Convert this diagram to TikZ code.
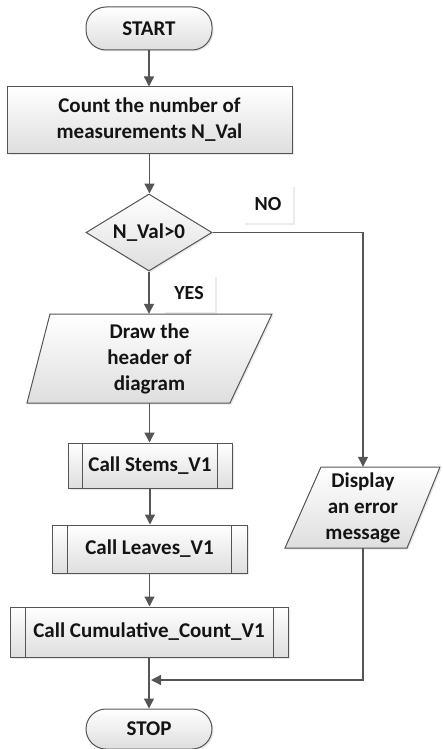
\documentclass[tikz,border=0pt]{standalone}
\usepackage{fontspec}
\setmainfont{Carlito}
\usetikzlibrary{shapes.geometric,arrows.meta,shadows,calc}
\definecolor{linec}{RGB}{85,85,85}
\definecolor{fillc}{RGB}{222,222,222}
\definecolor{txtc}{RGB}{20,20,20}
\begin{document}
\begin{tikzpicture}[x=1pt,y=-1pt,
  line/.style={draw=linec, line width=1.3pt},
  arr/.style={line, -{Triangle[length=10pt,width=10pt]}},
  shade/.style={top color=white, bottom color=fillc,
    drop shadow={opacity=0.18,shadow xshift=1.5pt,shadow yshift=-1.5pt}},
  txt/.style={font=\bfseries\fontsize{21}{26}\selectfont, text=txtc, align=center},
  term/.style={txt, shade, draw=linec, line width=1pt, rectangle, rounded corners=20pt,
    minimum width=126pt, inner sep=0pt},
  rectbox/.style={txt, shade, draw=linec, line width=1pt, rectangle, inner sep=0pt},
  procbox/.style={rectbox},
  decbox/.style={txt, shade, draw=linec, line width=1pt, diamond, aspect=1.64,
    minimum width=126pt, minimum height=77pt, inner sep=0pt},
  para/.style={shade, draw=linec, line width=1pt},
  lab/.style={txt, fill=white, font=\bfseries\fontsize{20}{24}\selectfont,
    drop shadow={opacity=0.15,shadow xshift=1.5pt,shadow yshift=-1.5pt},
    inner sep=0pt}
]
\useasboundingbox (0,0) rectangle (442,749);

% nodes
\node[term, minimum height=43pt] (start) at (149,28.5) {START};
\node[rectbox, minimum width=285pt, minimum height=66pt] (count) at (149.5,120)
  {Count the number of\\measurements N\_Val};
\node[decbox] (dec) at (149,232.5) {N\_Val>0};

\coordinate (hdrc) at (149.5,358.5);
\path[para] ($(hdrc)+(-99.5,-44.5)$) -- ($(hdrc)+(122.5,-44.5)$)
  -- ($(hdrc)+(80.5,44.5)$) -- ($(hdrc)+(-122.5,44.5)$) -- cycle;
\node[txt, minimum height=89pt, minimum width=180pt, inner sep=0pt] (hdr) at (hdrc)
  {Draw the\\header of\\diagram};

\node[procbox, minimum width=164pt, minimum height=45pt] (stems) at (150,465.5) {Call Stems\_V1};
\draw[linec, line width=1pt] ([xshift=15pt]stems.north west) -- ([xshift=15pt]stems.south west)
  ([xshift=-15pt]stems.north east) -- ([xshift=-15pt]stems.south east);

\node[procbox, minimum width=195pt, minimum height=48pt] (leaves) at (149.5,549) {Call Leaves\_V1};
\draw[linec, line width=1pt] ([xshift=16pt]leaves.north west) -- ([xshift=16pt]leaves.south west)
  ([xshift=-16pt]leaves.north east) -- ([xshift=-16pt]leaves.south east);

\node[procbox, minimum width=278pt, minimum height=50pt] (cum) at (149,632) {Call Cumulative\_Count\_V1};
\draw[linec, line width=1pt] ([xshift=16pt]cum.north west) -- ([xshift=16pt]cum.south west)
  ([xshift=-15pt]cum.north east) -- ([xshift=-15pt]cum.south east);

\node[term, minimum height=40pt] (stop) at (149,729) {STOP};

\coordinate (dispc) at (363,507.5);
\path[para] ($(dispc)+(-42,-40.5)$) -- ($(dispc)+(77,-40.5)$)
  -- ($(dispc)+(44,40.5)$) -- ($(dispc)+(-78,40.5)$) -- cycle;
\node[txt, minimum height=81pt, minimum width=100pt, inner sep=0pt] (disp) at (dispc)
  {Display\\an error\\message};

\node[lab, minimum width=50pt, minimum height=38pt] (no) at (268,204) {NO};
\node[lab, minimum width=52pt, minimum height=37pt] (yes) at (189,293.5) {YES};

% connectors
\draw[arr] (start.south) -- (start.south |- count.north);
\draw[arr] (count.south) -- (count.south |- dec.north);
\draw[arr] (dec.south) -- (dec.south |- hdr.north);
\draw[arr] (dec.east) -| (disp.north);
\draw[arr] (hdr.south) -- (hdr.south |- stems.north);
\draw[arr] (stems.south) -- (stems.south |- leaves.north);
\draw[arr] (leaves.south) -- (leaves.south |- cum.north);
\draw[arr] (cum.south) -- (cum.south |- stop.north);
\coordinate (mrg) at (151,680);
\draw[arr] (disp.south) |- (mrg);
\end{tikzpicture}
\end{document}
